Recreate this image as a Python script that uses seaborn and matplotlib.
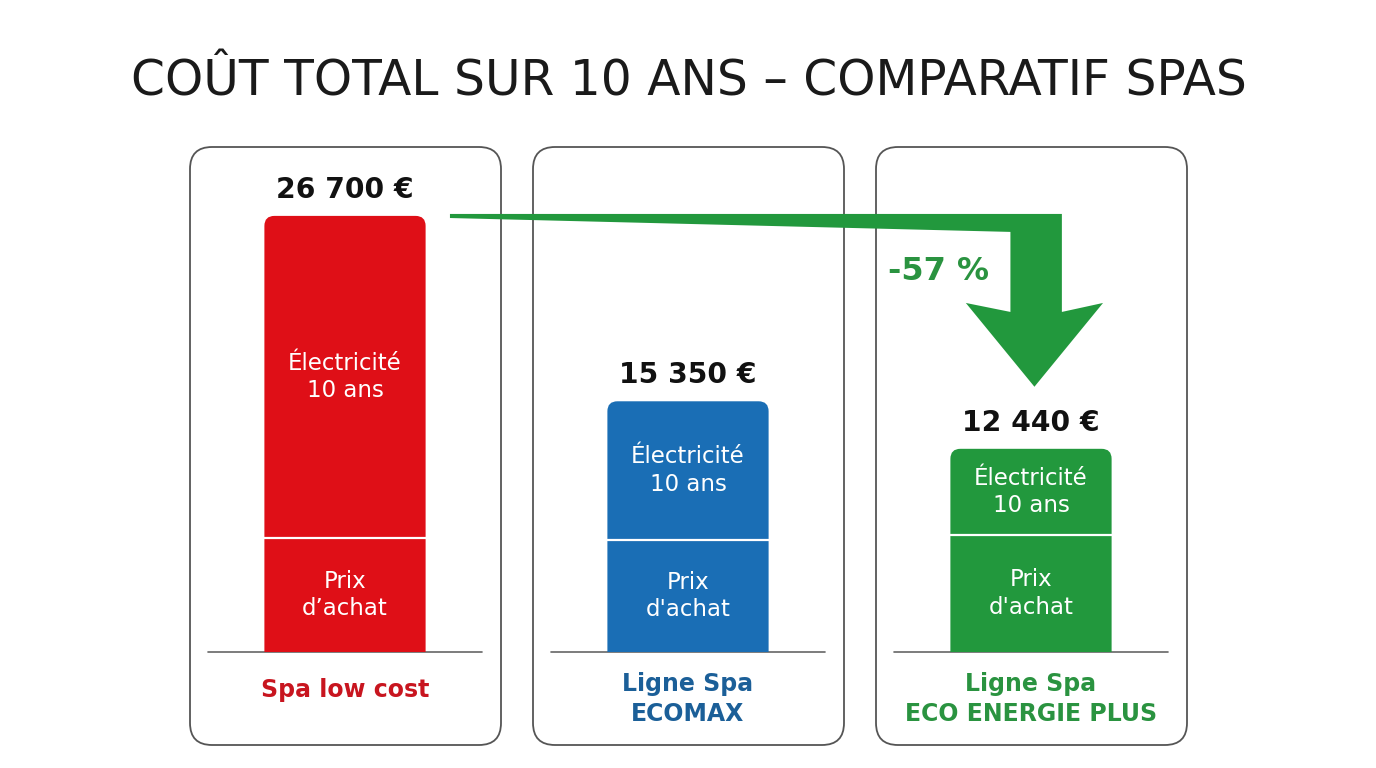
import numpy as np
import pandas as pd
import seaborn as sns
import matplotlib.pyplot as plt
from matplotlib.patches import FancyBboxPatch, Polygon

# Data
spas = ["Spa low cost", "Ligne Spa\nECOMAX", "Ligne Spa\nECO ENERGIE PLUS"]
totals = [26700, 15350, 12440]
purchase = [7000, 6850, 7150]
bar_colors = ["#DF0F17", "#1A6EB5", "#22983D"]
label_colors = ["#C8151F", "#1B5F98", "#2A9340"]
elec_labels = ["Électricité\n10 ans"] * 3
buy_labels = ["Prix\nd’achat", "Prix\nd'achat", "Prix\nd'achat"]
reduction = "-57 %"
title = "COÛT TOTAL SUR 10 ANS – COMPARATIF SPAS"

sns.set_theme(style="white")
plt.rcParams['font.family'] = ['DejaVu Sans']

W, H = 1376, 768
fig = plt.figure(figsize=(W / 100, H / 100), dpi=100)
fig.patch.set_facecolor("white")

# background axes in pixel units for the cards
bg = fig.add_axes([0, 0, 1, 1])
bg.set_xlim(0, W)
bg.set_ylim(H, 0)
bg.axis("off")

bg.text(689, 82, title, ha="center", va="center", fontsize=35, color="#1a1a1a")

centers = [345, 688, 1031]
for i, cx in enumerate(centers):
    card = FancyBboxPatch((cx - 155, 147), 311, 598,
                          boxstyle="round,pad=0,rounding_size=22",
                          facecolor="white", edgecolor="#555555", linewidth=1.3)
    bg.add_patch(card)
    bg.plot([cx - 137, cx + 137], [652, 652], color="#666666", lw=1.2)
    ly = 690 if "\n" not in spas[i] else 699
    bg.text(cx, ly, spas[i], ha="center", va="center", fontsize=17,
            fontweight="bold", color=label_colors[i], linespacing=1.35)

# bar axes: categories on x, euros on y
ymax = 30000
ax = fig.add_axes([173.5 / W, (H - 652) / H, 1029 / W, 490 / H])
ax.patch.set_alpha(0)
df = pd.DataFrame({"spa": spas, "total": totals})
sns.barplot(data=df, x="spa", y="total", hue="spa", palette=bar_colors,
            width=0.47, saturation=1, legend=False, ax=ax)
ax.set_xlim(-0.5, 2.5)
ax.set_ylim(0, ymax)
ax.axis("off")

px_x = 1029 / 3
px_y = 490 / ymax
rad = 10 / px_x
asp = (10 / px_y) / rad

# give the bars rounded tops
for p in list(ax.patches):
    x0, w, h = p.get_x(), p.get_width(), p.get_height()
    fc = p.get_facecolor()
    p.remove()
    ax.add_patch(FancyBboxPatch((x0, -rad * asp), w, h + rad * asp,
                                boxstyle=f"round,pad=0,rounding_size={rad}",
                                mutation_aspect=asp, facecolor=fc, edgecolor="none"))

for i in range(3):
    ax.hlines(purchase[i], i - 0.235, i + 0.235, color="white", lw=1.6)
    ax.text(i, totals[i] + 26 / px_y, f"{totals[i]:,}".replace(",", " ") + " €",
            ha="center", va="center", fontsize=20.3, fontweight="bold", color="#111111")
    ax.text(i, (totals[i] + purchase[i]) / 2, elec_labels[i], ha="center", va="center",
            fontsize=16.5, color="white", linespacing=1.25)
    ax.text(i, purchase[i] / 2, buy_labels[i], ha="center", va="center",
            fontsize=16.5, color="white", linespacing=1.25)

# reduction arrow from the low-cost total down to the eco total
top = totals[0] + 120
arrow = Polygon([(0.306, top), (2.09, top), (2.09, 20820), (2.21, 21370),
                 (2.01, totals[2] + 3800), (1.81, 21370), (1.94, 20820),
                 (1.94, 25720), (0.306, top - 250)],
                closed=True, facecolor="#22983D", edgecolor="none", clip_on=False)
ax.add_patch(arrow)
ax.text(1.73, 23300, reduction, ha="center", va="center", fontsize=23,
        fontweight="bold", color="#2A9340")

fig.savefig("out.png", dpi=100, facecolor="white")
